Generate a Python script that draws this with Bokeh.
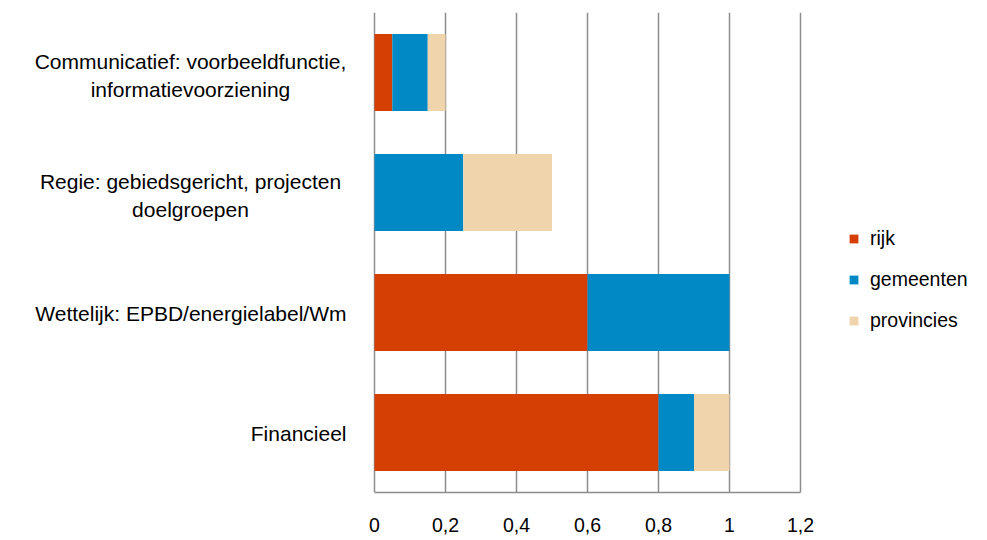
from bokeh.plotting import figure
from bokeh.models import ColumnDataSource, FixedTicker, Legend
from bokeh.core.properties import value
from bokeh.embed import file_html
from bokeh.resources import INLINE

categories = [
    "Communicatief: voorbeeldfunctie,\ninformatievoorziening",
    "Regie: gebiedsgericht, projecten\ndoelgroepen",
    "Wettelijk: EPBD/energielabel/Wm",
    "Financieel",
]
rijk = [0.05, 0.0, 0.6, 0.8]
gemeenten = [0.10, 0.25, 0.4, 0.1]
provincies = [0.05, 0.25, 0.0, 0.1]
series = ["rijk", "gemeenten", "provincies"]
colors = ["#D63F04", "#0089C4", "#F0D4AC"]
tick_values = [0, 0.2, 0.4, 0.6, 0.8, 1.0, 1.2]
tick_labels = ["0", "0,2", "0,4", "0,6", "0,8", "1", "1,2"]

FONT = "Liberation Sans"
n = len(categories)
ypos = [n - 1 - i + 0.5 for i in range(n)]

source = ColumnDataSource(dict(y=ypos, cat=categories, rijk=rijk,
                               gemeenten=gemeenten, provincies=provincies))

W, H = 987, 540
px_per_unit = 355.0
x0 = -374.0 / px_per_unit
x1 = x0 + W / px_per_unit

p = figure(width=W, height=H, output_backend="svg", toolbar_location=None,
           x_range=(x0, x1), y_range=(0, n), y_axis_type=None,
           min_border_left=0, min_border_right=0, min_border_top=12,
           min_border_bottom=H - 12 - 480)
p.outline_line_color = None
p.background_fill_color = "white"
p.border_fill_color = "white"

renderers = p.hbar_stack(series, y="y", height=0.64, color=colors,
                         line_color=None, source=source)

# axis
ax = p.xaxis[0]
ax.ticker = FixedTicker(ticks=tick_values)
ax.major_label_overrides = {v: l for v, l in zip(tick_values, tick_labels)}
ax.bounds = (tick_values[0], tick_values[-1])
ax.axis_line_color = "#8c8c8c"
ax.axis_line_width = 1.5
ax.major_tick_line_color = None
ax.minor_tick_line_color = None
ax.major_tick_out = 0
ax.major_tick_in = 0
ax.major_label_standoff = 25
ax.major_label_text_font = FONT
ax.major_label_text_font_size = "19.5px"
ax.major_label_text_color = "#000000"

p.xgrid.ticker = FixedTicker(ticks=tick_values)
p.xgrid.grid_line_color = "#8c8c8c"
p.xgrid.grid_line_width = 1.5
p.ygrid.grid_line_color = None

# category labels
multi = [c for c in categories if "\n" in c]
single = [c for c in categories if "\n" not in c]
ms = ColumnDataSource(dict(y=[ypos[categories.index(c)] for c in multi], t=multi))
ss = ColumnDataSource(dict(y=[ypos[categories.index(c)] for c in single], t=single))
p.text(x=(190 - 374) / px_per_unit, y="y", text="t", source=ms,
       text_align="center", text_baseline="middle", text_font=value(FONT),
       text_font_size="21px", text_line_height=1.24, text_color="#000000",
       y_offset=3)
p.text(x=(346 - 374) / px_per_unit, y="y", text="t", source=ss,
       text_align="right", text_baseline="middle", text_font=value(FONT),
       text_font_size="21px", text_color="#000000", y_offset=1)

legend = Legend(items=[(s, [r]) for s, r in zip(series, renderers)],
                location=(848, 160), orientation="vertical")
legend.border_line_color = None
legend.background_fill_alpha = 0
legend.padding = 0
legend.margin = 0
legend.glyph_width = 11
legend.glyph_height = 11
legend.label_height = 20
legend.spacing = 18
legend.label_standoff = 11
legend.label_text_font = FONT
legend.label_text_font_size = "19.5px"
legend.label_text_color = "#000000"
p.add_layout(legend)

open("out.html", "w").write(file_html(p, INLINE))
